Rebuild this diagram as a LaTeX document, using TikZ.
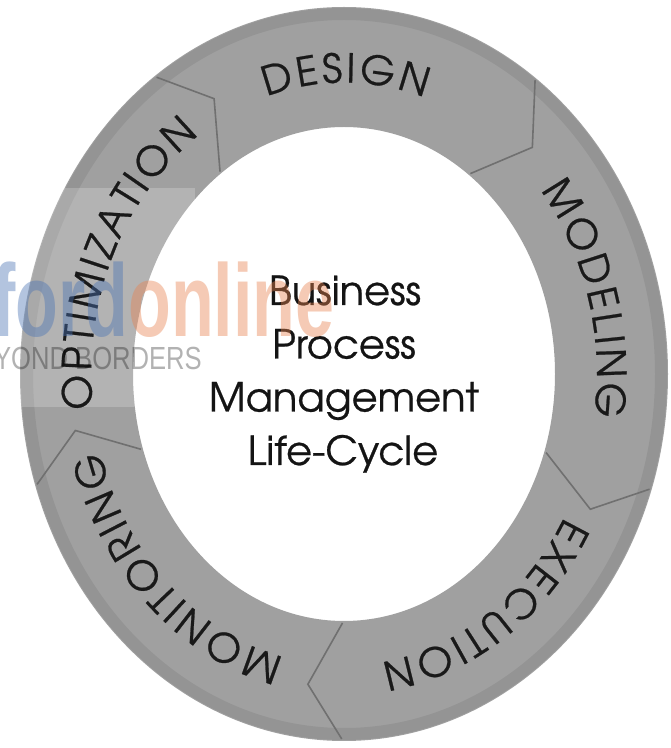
\documentclass[tikz,border=0pt]{standalone}
\usepackage{fontspec}
\setmainfont{TeX Gyre Adventor}
\newfontfamily\labelfamily[FakeBold=0.6]{TeX Gyre Adventor}
\newfontfamily\markfont{Liberation Sans}
\usetikzlibrary{decorations.text}

\definecolor{ringgray}{HTML}{A0A0A0}
\definecolor{seamgray}{HTML}{707070}
\definecolor{markblue}{HTML}{4A73B4}
\definecolor{markorange}{HTML}{E8824F}

% letter format for the phase names on the ring
\newcommand{\labelfmt}{\labelfamily\fontsize{40}{40}\selectfont\kern3.3pt}
% ellipse on which the phase names sit (baseline)
\newcommand{\labrx}{252.8}
\newcommand{\labry}{291.4}

\tikzset{
  ringlabel/.style={decorate, decoration={text along path, text align=center,
      text color=black!90, text={|\labelfmt|#1}}},
  seam/.style={draw=seamgray, line width=1.6pt, line join=miter},
  centertext/.style={font=\labelfamily\fontsize{40}{40}\selectfont, anchor=base,
      inner sep=0pt, text=black!92},
}

\begin{document}
\begin{tikzpicture}[x=1pt,y=1pt]
\useasboundingbox (0,0) rectangle (671,748);
\fill[white] (0,0) rectangle (671,748);

\begin{scope}[shift={(344,374)}]
  % the ring
  \fill[ringgray, even odd rule]
    (0,0) ellipse [x radius=324, y radius=367]
    (0,0) ellipse [x radius=211, y radius=247];
  % darker outer rim
  \draw[black, opacity=0.07, line width=12pt]
    (0,0) ellipse [x radius=317, y radius=360];

  % chevron seams between the five phases
  \foreach \b [count=\i] in {125.6,53.6,-18.4,-90.4,-162.4} {
    \coordinate (so\i) at ({322*cos(\b)},{365*sin(\b)});
    \coordinate (st\i) at ({(211+113*0.55)*cos(\b-7.2)},{(247+120*0.55)*sin(\b-7.2)});
    \coordinate (si\i) at ({213*cos(\b)},{249*sin(\b)});
    \draw[seam] (so\i) -- (st\i) -- (si\i);
  }
\end{scope}

% light panel behind the left part of the ring
\fill[white, opacity=0.2] (0,341) rectangle (195,560);

\begin{scope}[shift={(344,374)}]
  % phase names, set clockwise along the ring
  \path[ringlabel={DESIGN}]
    ({\labrx*cos(170)},{\labry*sin(170)})
    arc[start angle=170, end angle=10, x radius=\labrx, y radius=\labry];
  \path[ringlabel={MODELING}]
    ({\labrx*cos(97.5)},{\labry*sin(97.5)})
    arc[start angle=97.5, end angle=-62.5, x radius=\labrx, y radius=\labry];
  \path[ringlabel={EXECUTION}]
    ({\labrx*cos(22)},{\labry*sin(22)})
    arc[start angle=22, end angle=-138, x radius=\labrx, y radius=\labry];
  \path[ringlabel={MONITORING}]
    ({\labrx*cos(-51)},{\labry*sin(-51)})
    arc[start angle=-51, end angle=-211, x radius=\labrx, y radius=\labry];
  \path[ringlabel={OPTIMIZATION}]
    ({\labrx*cos(234)},{\labry*sin(234)})
    arc[start angle=234, end angle=74, x radius=\labrx, y radius=\labry];
\end{scope}

% centre title, one line per node
\node[centertext] (bpm1) at (345,443)   {Business};
\node[centertext] (bpm2) at (344,389.5) {Process};
\node[centertext] (bpm3) at (344,336.5) {Management};
\node[centertext] (bpm4) at (343,283)   {Life-Cycle};

% site mark
\node[anchor=base west, inner sep=0pt, transform shape, xscale=0.68,
      font=\markfont\bfseries\fontsize{103}{103}\selectfont, opacity=0.42]
  (wmname) at (-8,411) {\textcolor{markblue}{ford}\textcolor{markorange}{online}};
\node[anchor=base west, inner sep=0pt, transform shape, xscale=0.80,
      font=\markfont\fontsize{32}{32}\selectfont, text=black, opacity=0.3]
  (wmtag) at (-6,378) {YOND BORDERS};
\end{tikzpicture}
\end{document}
